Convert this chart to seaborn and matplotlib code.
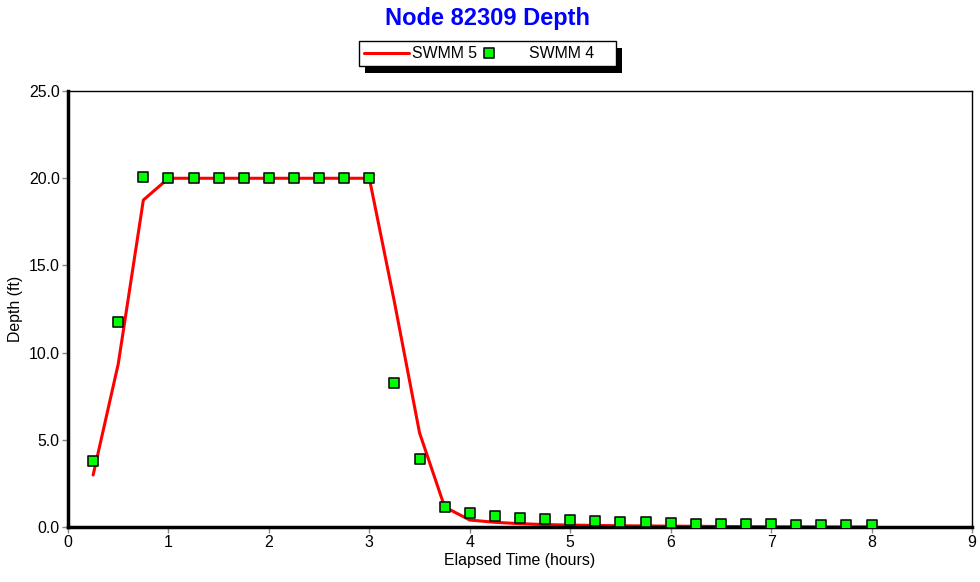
import matplotlib
matplotlib.use("Agg")
import matplotlib.pyplot as plt
import pandas as pd
import seaborn as sns
from matplotlib.collections import PathCollection
from matplotlib.legend_handler import HandlerPathCollection
from matplotlib.patches import Rectangle

# SWMM 5 (line) and SWMM 4 (points) depth at node 82309
time_hours = [0.25, 0.5, 0.75, 1.0, 1.25, 1.5, 1.75, 2.0, 2.25, 2.5, 2.75, 3.0,
              3.25, 3.5, 3.75, 4.0, 4.25, 4.5, 4.75, 5.0, 5.25, 5.5, 5.75, 6.0,
              6.25, 6.5, 6.75, 7.0, 7.25, 7.5, 7.75, 8.0]
swmm5_depth = [2.98, 9.35, 18.75, 20.0, 20.0, 20.0, 20.0, 20.0, 20.0, 20.0, 20.0, 20.0,
               12.9, 5.4, 1.15, 0.4, 0.27, 0.19, 0.14, 0.11, 0.09, 0.07, 0.06, 0.05,
               0.04, 0.03, 0.02, 0.01, 0.01, 0.0, 0.0, 0.0]
swmm4_depth = [3.78, 11.75, 20.07, 20.0, 20.0, 20.0, 20.0, 20.0, 20.0, 20.0, 20.0, 20.0,
               8.26, 3.9, 1.15, 0.8, 0.63, 0.52, 0.45, 0.38, 0.37, 0.3, 0.28, 0.22,
               0.2, 0.2, 0.2, 0.15, 0.14, 0.13, 0.12, 0.12]

x_ticks = list(range(0, 10))
y_ticks = [0.0, 5.0, 10.0, 15.0, 20.0, 25.0]

df = pd.DataFrame({"time": time_hours, "swmm5": swmm5_depth, "swmm4": swmm4_depth})

sns.set_style("white")
plt.rcParams["font.family"] = ["Liberation Sans", "DejaVu Sans"]
plt.rcParams["text.color"] = "black"
plt.rcParams["axes.labelcolor"] = "black"
plt.rcParams["xtick.color"] = "black"
plt.rcParams["ytick.color"] = "black"

fig = plt.figure(figsize=(9.8, 5.82), dpi=100)
ax = fig.add_axes([0.0694, 0.0945, 0.9224, 0.749])

sns.lineplot(data=df, x="time", y="swmm5", ax=ax, color="#ff0000", linewidth=2.2,
             label="SWMM 5")
sns.scatterplot(data=df, x="time", y="swmm4", ax=ax, marker="s", s=62,
                color="#00ff00", edgecolor="#111111", linewidth=1.2, label="SWMM 4",
                zorder=3)

ax.set_xlim(0, 9)
ax.set_ylim(0, 25)
ax.set_xticks(x_ticks)
ax.set_xticklabels([str(t) for t in x_ticks])
ax.set_yticks(y_ticks)
ax.set_yticklabels([f"{v:.1f}" for v in y_ticks])
ax.tick_params(axis="both", direction="out", length=4, width=1, color="#888888",
               labelcolor="black", labelsize=11.4, pad=2, bottom=True, left=True)

ax.set_xlabel("Elapsed Time (hours)", fontsize=11.4, labelpad=2)
ax.set_ylabel("Depth (ft)", fontsize=11.4, labelpad=4)

for side in ["top", "right"]:
    ax.spines[side].set_linewidth(1.0)
    ax.spines[side].set_color("black")
for side in ["left", "bottom"]:
    ax.spines[side].set_linewidth(2.5)
    ax.spines[side].set_color("black")

fig.suptitle("Node 82309 Depth", x=0.497, y=0.988, fontsize=17, fontweight="bold",
             color="#0000ff")

ax.get_legend().remove()
handles, labels = ax.get_legend_handles_labels()
labels = [labels[0], labels[1] + "    "]  # extra room on the right like the original box
leg = fig.legend(handles, labels, loc="center", bbox_to_anchor=(0.4974, 0.908), ncol=2,
                 frameon=True, fancybox=False, shadow=False, framealpha=1,
                 fontsize=11.4, handlelength=2.85, columnspacing=0.25, borderpad=0.3,
                 handletextpad=0.19, scatterpoints=1, scatteryoffsets=[0.5],
                 handler_map={PathCollection: HandlerPathCollection(xpad=-1.84)})
leg.get_frame().set_edgecolor("black")
leg.get_frame().set_facecolor("white")
leg.get_frame().set_linewidth(1.0)
leg.set_zorder(5)

# drop shadow under the legend box
fig.canvas.draw()
bb = leg.get_window_extent()
shadow = Rectangle((bb.x0 + 6, bb.y0 - 7), bb.width, bb.height, transform=None,
                   facecolor="black", edgecolor="none", zorder=4)
fig.add_artist(shadow)

fig.savefig("out.png", dpi=100)
